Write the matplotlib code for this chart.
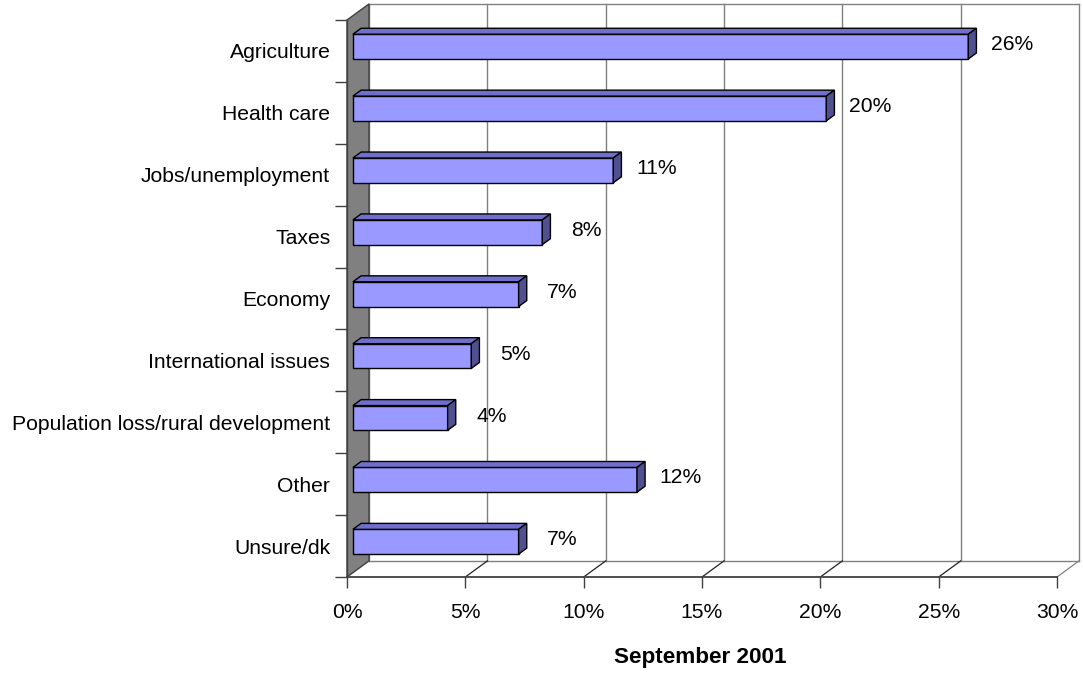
import matplotlib
matplotlib.use("Agg")
import matplotlib.pyplot as plt
from matplotlib.patches import Polygon

plt.rcParams['font.family'] = ['Liberation Sans', 'DejaVu Sans']

# 数据
categories = ['Agriculture', 'Health care', 'Jobs/unemployment', 'Taxes', 'Economy',
              'International issues', 'Population loss/rural development', 'Other', 'Unsure/dk']
values = [26, 20, 11, 8, 7, 5, 4, 12, 7]
xticks = [0, 5, 10, 15, 20, 25, 30]
xlabel = 'September 2001'

# 3D 偏移 (数据单位)
DX = 0.93    # 深度方向的 x 偏移
DY = 0.26    # 深度方向的 y 偏移
D0, D1 = 0.27, 0.64   # 柱子前后面所在的深度
BH = 0.40             # 柱子高度
FS = 15.2

fig = plt.figure(figsize=(10.83, 6.73), dpi=100)
ax = fig.add_axes([347 / 1083, 96 / 673, 710 / 1083, 557 / 673])
n = len(categories)
ax.set_xlim(0, 30)
ax.set_ylim(n, 0)
for s in ax.spines.values():
    s.set_visible(False)


def off(x, y, d):
    return (x + d * DX, y - d * DY)


# 左侧灰色墙
wall = Polygon([off(0, 0, 0), off(0, 0, 1), off(0, n, 1), off(0, n, 0)],
               closed=True, facecolor='#808080', edgecolor='#404040', lw=1, clip_on=False, zorder=1)
ax.add_patch(wall)

# 背面网格线
for t in xticks:
    x0, y0 = off(t, 0, 1)
    x1, y1 = off(t, n, 1)
    ax.plot([x0, x1], [y0, y1], color='#808080', lw=1, clip_on=False, zorder=0)
ax.plot([off(0, 0, 1)[0], off(30, 0, 1)[0]], [-DY, -DY], color='#808080', lw=1, clip_on=False, zorder=0)

# 底面
ax.plot([off(0, n, 1)[0], off(30, n, 1)[0]], [n - DY, n - DY], color='#808080', lw=1, clip_on=False, zorder=0)
for t in xticks[1:]:
    a = off(t, n, 0)
    b = off(t, n, 1)
    ax.plot([a[0], b[0]], [a[1], b[1]], color='#808080' if t == 30 else '#222222', lw=0.9,
            clip_on=False, zorder=1)
ax.plot([0, 30], [n, n], color='#404040', lw=1.3, clip_on=False, zorder=3)
ax.plot([0, 0], [0, n], color='#404040', lw=1.0, clip_on=False, zorder=3)

# 柱子
front = '#9999FF'
top_c = '#7070CC'
side_c = '#505090'
ddx = (D1 - D0) * DX
ddy = (D1 - D0) * DY
for i, v in enumerate(values):
    x0, yc = off(0, i + 0.5, D0)
    ax.barh(yc, v, left=x0, height=BH, color=front, edgecolor='black', lw=1.0, zorder=4)
    top = yc - BH / 2
    bot = yc + BH / 2
    ax.add_patch(Polygon([(x0, top), (x0 + ddx, top - ddy), (x0 + v + ddx, top - ddy), (x0 + v, top)],
                         closed=True, facecolor=top_c, edgecolor='black', lw=1.0, zorder=4))
    ax.add_patch(Polygon([(x0 + v, top), (x0 + v + ddx, top - ddy), (x0 + v + ddx, bot - ddy), (x0 + v, bot)],
                         closed=True, facecolor=side_c, edgecolor='black', lw=1.0, zorder=4))
    ax.text(v + 2.1, i + 0.5 - 0.1, f'{v}%', ha='center', va='center', fontsize=FS, zorder=5)

# 坐标轴刻度
ax.set_xticks(xticks)
ax.set_xticklabels([f'{t}%' for t in xticks], fontsize=FS)
ax.tick_params(axis='x', direction='out', length=8, width=1, color='#404040', pad=10.5)
ax.set_yticks(range(n + 1))
ax.set_yticklabels([])
ax.tick_params(axis='y', which='major', direction='out', length=8.6, width=1, color='#404040')
ax.set_yticks([i + 0.5 for i in range(n)], minor=True)
ax.set_yticklabels(categories, minor=True, fontsize=FS)
ax.tick_params(axis='y', which='minor', length=0, pad=12)

fig.text(700 / 1083, 1 - 658 / 673, xlabel, ha='center', va='center', fontsize=16.2, fontweight='bold')

fig.savefig('out.png', dpi=100)
